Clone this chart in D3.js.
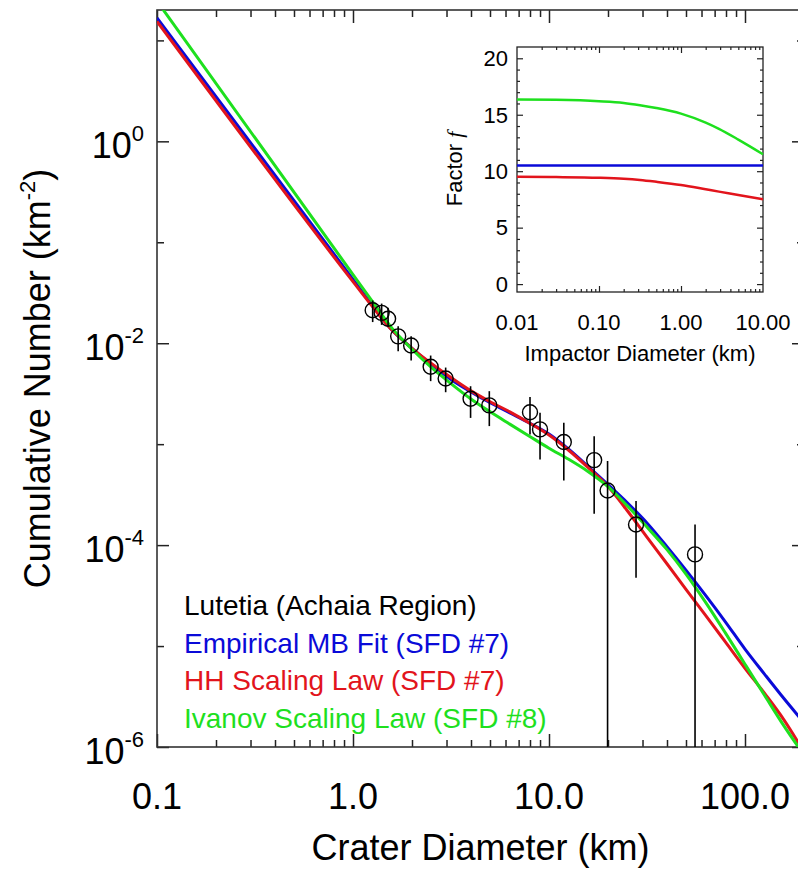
<!DOCTYPE html>
<html><head><meta charset="utf-8">
<script src="https://cdn.jsdelivr.net/npm/d3@7"></script>
<style>
body{margin:0;background:#fff}
svg{display:block}
text{font-family:"Liberation Sans",Arial,Helvetica,sans-serif;fill:#000}
</style>
</head><body><svg id="c" width="798" height="871"></svg>
<script>
// ---------- data ----------
const curveD = [0.1, 1.0, 1.26, 1.58, 2.0, 2.51, 3.16, 3.98, 5.01, 6.31, 7.94, 10, 12.6, 15.8, 20, 25.1, 31.6, 39.8, 50.1, 63.1, 79.4, 100, 126, 158, 200];
const empiricalN = [16.7, 0.0429, 0.0234, 0.0135, 0.00891, 0.00617, 0.00437, 0.00331, 0.00257, 0.00204, 0.00162, 0.00126, 8.91e-4, 6.03e-4, 3.98e-4, 2.63e-4, 1.66e-4, 9.77e-5, 5.62e-5, 3.16e-5, 1.74e-5, 9.33e-6, 5.25e-6, 3.02e-6, 1.74e-6];
const hhN = [15.4, 0.0407, 0.0229, 0.0135, 0.00891, 0.00631, 0.00457, 0.00339, 0.00263, 0.00209, 0.00162, 0.00123, 8.71e-4, 5.89e-4, 3.80e-4, 2.19e-4, 1.20e-4, 6.61e-5, 3.63e-5, 2.0e-5, 1.10e-5, 6.03e-6, 3.39e-6, 1.86e-6, 8.91e-7];
const ivanovN = [24.5, 0.0479, 0.0257, 0.0141, 0.00871, 0.00575, 0.00398, 0.00282, 0.00209, 0.00158, 0.00120, 9.12e-4, 7.08e-4, 5.37e-4, 3.80e-4, 2.45e-4, 1.51e-4, 9.12e-5, 5.13e-5, 2.69e-5, 1.35e-5, 6.61e-6, 3.24e-6, 1.62e-6, 8.32e-7];

const craterD = [1.26, 1.40, 1.51, 1.70, 1.98, 2.49, 2.97, 3.98, 4.96, 8.0, 9.0, 11.9, 17.0, 19.9, 27.8, 55.6];
const cumN    = [0.0212, 0.0200, 0.0175, 0.0117, 0.0095, 0.00584, 0.00447, 0.00282, 0.00242, 0.00207, 0.00140, 0.00105, 6.95e-4, 3.48e-4, 1.60e-4, 8.09e-5];
const errHigh = [0.0265, 0.0247, 0.0224, 0.0147, 0.0117, 0.00755, 0.00574, 0.00375, 0.00335, 0.00294, 0.00205, 0.00163, 1.2e-3, 6.8e-4, 2.73e-4, 1.6e-4];
const errLow  = [0.0162, 0.0152, 0.0147, 0.00834, 0.00674, 0.00421, 0.00327, 0.00182, 0.00151, 0.00125, 7.06e-4, 4.37e-4, 2.05e-4, 0, 4.75e-5, 0];

const xTickValues = [0.1, 1, 10, 100];
const xTickLabels = ["0.1", "1.0", "10.0", "100.0"];
const yTickMajor = [1, 1e-2, 1e-4, 1e-6];
const yTickExponents = ["0", "-2", "-4", "-6"];
const yTickMinor = [10, 1e-1, 1e-3, 1e-5];

const impactorD = [0.01, 0.03, 0.1, 0.2, 0.316, 0.5, 1, 2, 2.9, 5, 10];
const factorEmpirical = [10.5, 10.5, 10.5, 10.5, 10.5, 10.5, 10.5, 10.5, 10.5, 10.5, 10.5];
const factorHH = [9.50, 9.48, 9.42, 9.33, 9.22, 9.06, 8.78, 8.40, 8.19, 7.90, 7.52];
const factorIvanov = [16.35, 16.32, 16.20, 16.05, 15.85, 15.60, 15.10, 14.30, 13.75, 12.80, 11.50];
const insetXTicks = [0.01, 0.1, 1, 10];
const insetXLabels = ["0.01", "0.10", "1.00", "10.00"];
const insetYTicks = [0, 5, 10, 15, 20];

const legendLabels = ["Lutetia (Achaia Region)", "Empirical MB Fit (SFD #7)", "HH Scaling Law (SFD #7)", "Ivanov Scaling Law (SFD #8)"];
const BLUE = "#0a0ad8", RED = "#e2141c", GREEN = "#1ee01e";
const legendColors = ["#000", BLUE, RED, GREEN];

// ---------- main plot ----------
const svg = d3.select("#c");
const L = 157, R = 804, T = 10, B = 747;
const x = d3.scaleLog().domain([0.1, 200]).range([L, R]);
const y = d3.scaleLog().domain([1e-6, 20]).range([B, T]);

svg.append("defs").append("clipPath").attr("id", "clipMain")
  .append("rect").attr("x", L).attr("y", T).attr("width", R - L).attr("height", B - T);

function minorLog(lo, hi) {
  const out = [];
  for (let e = Math.floor(Math.log10(lo)); e <= Math.ceil(Math.log10(hi)); e++) {
    for (let k = 2; k <= 9; k++) {
      const v = k * Math.pow(10, e);
      if (v > lo * 1.0001 && v < hi * 0.9999) out.push(v);
    }
  }
  return out;
}
const xMinor = minorLog(0.1, 200);

function styleAxis(g) {
  g.select(".domain").remove();
  g.selectAll(".tick line").attr("stroke", "#222").attr("stroke-width", 1.5);
  g.selectAll(".tick text").remove();
}
svg.append("g").attr("transform", `translate(0,${B})`)
  .call(d3.axisBottom(x).tickValues(xTickValues).tickSize(-13).tickFormat("")).call(styleAxis);
svg.append("g").attr("transform", `translate(0,${B})`)
  .call(d3.axisBottom(x).tickValues(xMinor).tickSize(-7).tickFormat("")).call(styleAxis);
svg.append("g").attr("transform", `translate(0,${T})`)
  .call(d3.axisTop(x).tickValues(xTickValues).tickSize(-13).tickFormat("")).call(styleAxis);
svg.append("g").attr("transform", `translate(0,${T})`)
  .call(d3.axisTop(x).tickValues(xMinor).tickSize(-7).tickFormat("")).call(styleAxis);
svg.append("g").attr("transform", `translate(${L},0)`)
  .call(d3.axisLeft(y).tickValues(yTickMajor).tickSize(-12).tickFormat("")).call(styleAxis);
svg.append("g").attr("transform", `translate(${L},0)`)
  .call(d3.axisLeft(y).tickValues(yTickMinor).tickSize(-7).tickFormat("")).call(styleAxis);
svg.append("g").attr("transform", `translate(${R},0)`)
  .call(d3.axisRight(y).tickValues(yTickMajor).tickSize(-12).tickFormat("")).call(styleAxis);
svg.append("g").attr("transform", `translate(${R},0)`)
  .call(d3.axisRight(y).tickValues(yTickMinor).tickSize(-7).tickFormat("")).call(styleAxis);

svg.append("rect").attr("x", L).attr("y", T).attr("width", R - L).attr("height", B - T)
  .attr("fill", "none").attr("stroke", "#333").attr("stroke-width", 1.6);

// tick labels
xTickValues.forEach((v, i) => {
  svg.append("text").attr("x", x(v)).attr("y", 809).attr("text-anchor", "middle")
    .attr("font-size", 36).text(xTickLabels[i]);
});
yTickMajor.forEach((v, i) => {
  const t = svg.append("text").attr("x", 144).attr("y", y(v) + 16.6).attr("text-anchor", "end")
    .attr("font-size", 36);
  t.append("tspan").text("10");
  t.append("tspan").attr("font-size", 22).attr("dy", -17).text(yTickExponents[i]);
});

// axis titles
svg.append("text").attr("x", (L + R) / 2).attr("y", 860).attr("text-anchor", "middle")
  .attr("font-size", 36).text("Crater Diameter (km)");
const yt = svg.append("text").attr("transform", `translate(50,${(T + B) / 2}) rotate(-90)`)
  .attr("text-anchor", "middle").attr("font-size", 36);
yt.append("tspan").text("Cumulative Number (km");
yt.append("tspan").attr("font-size", 22).attr("dy", -15).text("-2");
yt.append("tspan").attr("dy", 15).text(")");

// curves
const line = d3.line().x(d => x(d[0])).y(d => y(d[1])).curve(d3.curveMonotoneX);
const cg = svg.append("g").attr("clip-path", "url(#clipMain)");
[[empiricalN, BLUE], [hhN, RED], [ivanovN, GREEN]].forEach(([arr, col]) => {
  cg.append("path").datum(curveD.map((d, i) => [d, arr[i]]))
    .attr("d", line).attr("fill", "none").attr("stroke", col).attr("stroke-width", 3);
});

// data points with error bars
const yMin = y.domain()[0];
craterD.forEach((d, i) => {
  const lo = errLow[i] > yMin ? y(errLow[i]) : B;
  cg.append("line").attr("x1", x(d)).attr("x2", x(d)).attr("y1", y(errHigh[i])).attr("y2", lo)
    .attr("stroke", "#000").attr("stroke-width", 1.6);
  cg.append("circle").attr("cx", x(d)).attr("cy", y(cumN[i])).attr("r", 7.5)
    .attr("fill", "none").attr("stroke", "#000").attr("stroke-width", 1.4);
});

// legend
legendLabels.forEach((t, i) => {
  svg.append("text").attr("x", 184).attr("y", 615 + i * 37.7).attr("font-size", 28)
    .style("fill", legendColors[i]).text(t);
});

// ---------- inset ----------
const iL = 517, iR = 763, iT = 47, iB = 292;
const ix = d3.scaleLog().domain([0.01, 10]).range([iL, iR]);
const iy = d3.scaleLinear().domain([-0.7, 21]).range([iB, iT]);
const ixMinor = minorLog(0.01, 10);
const iyMinor = d3.range(1, 21).filter(v => v % 5 !== 0);
const ixMajorInner = [0.1, 1];

function styleInset(g) {
  g.select(".domain").remove();
  g.selectAll(".tick line").attr("stroke", "#222").attr("stroke-width", 1.2);
  g.selectAll(".tick text").remove();
}
const ins = svg.append("g");
ins.append("g").attr("transform", `translate(0,${iB})`).call(d3.axisBottom(ix).tickValues(ixMajorInner).tickSize(-6).tickFormat("")).call(styleInset);
ins.append("g").attr("transform", `translate(0,${iB})`).call(d3.axisBottom(ix).tickValues(ixMinor).tickSize(-3).tickFormat("")).call(styleInset);
ins.append("g").attr("transform", `translate(0,${iT})`).call(d3.axisTop(ix).tickValues(ixMajorInner).tickSize(-6).tickFormat("")).call(styleInset);
ins.append("g").attr("transform", `translate(0,${iT})`).call(d3.axisTop(ix).tickValues(ixMinor).tickSize(-3).tickFormat("")).call(styleInset);
ins.append("g").attr("transform", `translate(${iL},0)`).call(d3.axisLeft(iy).tickValues(insetYTicks).tickSize(-6).tickFormat("")).call(styleInset);
ins.append("g").attr("transform", `translate(${iL},0)`).call(d3.axisLeft(iy).tickValues(iyMinor).tickSize(-3).tickFormat("")).call(styleInset);
ins.append("g").attr("transform", `translate(${iR},0)`).call(d3.axisRight(iy).tickValues(insetYTicks).tickSize(-6).tickFormat("")).call(styleInset);
ins.append("g").attr("transform", `translate(${iR},0)`).call(d3.axisRight(iy).tickValues(iyMinor).tickSize(-3).tickFormat("")).call(styleInset);
ins.append("rect").attr("x", iL).attr("y", iT).attr("width", iR - iL).attr("height", iB - iT)
  .attr("fill", "none").attr("stroke", "#222").attr("stroke-width", 1.3);

const iline = d3.line().x(d => ix(d[0])).y(d => iy(d[1])).curve(d3.curveMonotoneX);
[[factorEmpirical, BLUE], [factorHH, RED], [factorIvanov, GREEN]].forEach(([arr, col]) => {
  ins.append("path").datum(impactorD.map((d, i) => [d, arr[i]]))
    .attr("d", iline).attr("fill", "none").attr("stroke", col).attr("stroke-width", 2.5);
});

insetXTicks.forEach((v, i) => {
  ins.append("text").attr("x", ix(v)).attr("y", 330).attr("text-anchor", "middle")
    .attr("font-size", 22).text(insetXLabels[i]);
});
insetYTicks.forEach(v => {
  ins.append("text").attr("x", 508).attr("y", iy(v) + 7.8).attr("text-anchor", "end")
    .attr("font-size", 22).text(v);
});
ins.append("text").attr("x", (iL + iR) / 2).attr("y", 361).attr("text-anchor", "middle")
  .attr("font-size", 22).text("Impactor Diameter (km)");
const ft = ins.append("text").attr("transform", `translate(462,169) rotate(-90)`)
  .attr("text-anchor", "middle").attr("font-size", 22);
ft.append("tspan").text("Factor ");
ft.append("tspan").style("font-family", "'Liberation Serif','DejaVu Serif',serif").style("font-style", "italic").text("f");
</script>
</body></html>
